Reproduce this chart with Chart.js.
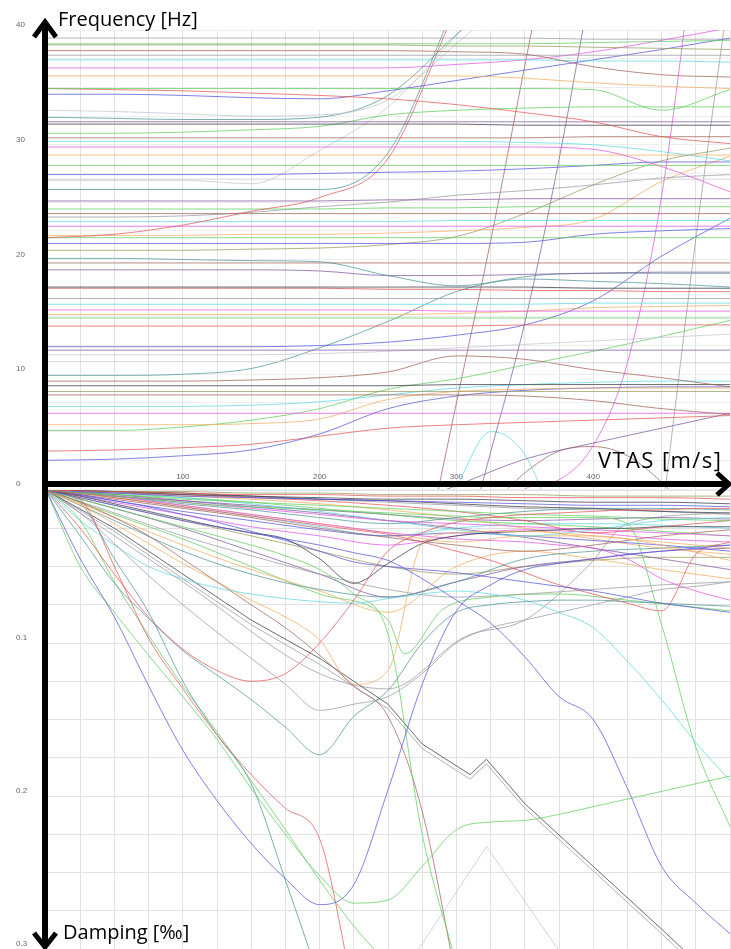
<!DOCTYPE html>
<html>
<head>
<meta charset="utf-8">
<script src="https://cdn.jsdelivr.net/npm/chart.js@4.4.1/dist/chart.umd.min.js"></script>
<style>
html, body { margin: 0; padding: 0; background: #fff; width: 731px; height: 949px; overflow: hidden; position: relative; }
#freqChart { position: absolute; left: 0; top: 0; }
#dampChart { position: absolute; left: 0; top: 484px; }
#axes { position: absolute; left: 0; top: 0; }
.axis-title { position: absolute; font-family: 'Open Sans', sans-serif; font-size: 20px; line-height: 20px; color: #000; white-space: nowrap; }
</style>
</head>
<body>
<canvas id="freqChart" width="731" height="495"></canvas>
<canvas id="dampChart" width="731" height="471"></canvas>
<svg id="axes" width="731" height="949" viewBox="0 0 731 949">
  <g stroke="#000" fill="none">
    <line x1="45" y1="24" x2="45" y2="944" stroke-width="6"/>
    <line x1="45" y1="484" x2="726" y2="484" stroke-width="6"/>
    <polyline points="34,37 45,22 56,37" stroke-width="5"/>
    <polyline points="34,933 45,947 56,933" stroke-width="5"/>
    <polyline points="717,473 729,484 717,495" stroke-width="5"/>
  </g>
</svg>
<div class="axis-title" style="left:58px;top:9px">Frequency [Hz]</div>
<div class="axis-title" style="left:598px;top:448px;font-size:22px;line-height:22px;letter-spacing:1.4px">VTAS [m/s]</div>
<div class="axis-title" style="left:63px;top:922px">Damping [‰]</div>
<script>
// speed grids (m/s)
const speeds = [0, 50, 100, 150, 200, 250, 300, 350, 400, 450, 500];
const speedsFine = [0, 25, 50, 75, 100, 125, 150, 175, 200, 225, 250, 275, 300, 325, 350, 375, 400, 425, 450, 475, 500];

// frequency modes above ~20 Hz (on speeds)
const freqHigh = [
    [39.3, 39.3, 39.3, 39.3, 39.3, 39.3, 39.3, 39.3, 39.2, 39.2, 39.2],
    [38.8, 38.8, 38.8, 38.8, 38.8, 38.8, 38.8, 38.8, 38.9, 39.0, 39.1],
    [38.7, 38.7, 38.7, 38.7, 38.7, 38.7, 38.6, 38.6, 38.5, 38.4, 38.3],
    [38.2, 38.2, 38.2, 38.2, 38.2, 38.2, 38.1, 37.9, 36.8, 36.1, 35.9],
    [37.8, 37.8, 37.8, 37.8, 37.8, 37.8, 37.8, 37.8, 37.8, 37.8, 37.8],
    [37.4, 37.4, 37.4, 37.4, 37.4, 37.4, 37.4, 37.4, 37.3, 37.3, 37.2],
    [36.7, 36.7, 36.7, 36.7, 36.7, 36.7, 37.0, 37.4, 38.1, 39.1, 40.2],
    [36.0, 36.0, 36.0, 36.0, 36.0, 36.0, 36.0, 35.8, 35.4, 35.1, 34.9],
    [34.9, 34.9, 34.9, 34.9, 34.9, 34.9, 34.9, 34.9, 34.8, 33.0, 34.8],
    [34.9, 34.8, 34.7, 34.5, 34.3, 34.0, 33.5, 32.8, 32.0, 30.7, 30.1],
    [34.4, 34.4, 34.3, 34.1, 34.0, 34.7, 35.6, 36.5, 37.4, 38.3, 39.3],
    [33.0, 32.9, 32.7, 32.5, 32.6, 33.9, 38.8, 44.0, null, null, null],
    [32.4, 32.3, 32.2, 32.2, 32.4, 34.3, 39.6, 45.0, null, null, null],
    [32.0, 32.0, 32.0, 32.0, 32.0, 32.0, 32.0, 32.0, 32.0, 32.0, 32.0],
    [31.8, 31.8, 31.8, 31.8, 31.8, 31.8, 31.8, 31.7, 31.7, 31.7, 31.7],
    [31.0, 31.0, 31.1, 31.3, 31.6, 32.6, 33.0, 33.2, 33.3, 33.3, 33.3],
    [30.6, 30.6, 30.6, 30.6, 30.6, 30.6, 30.6, 30.6, 30.7, 30.7, 30.7],
    [30.3, 30.3, 30.3, 30.3, 30.3, 30.3, 30.3, 30.2, 30.0, 29.4, 28.6],
    [29.8, 29.8, 29.8, 29.8, 29.8, 29.8, 29.8, 29.8, 29.6, 28.1, 25.9],
    [29.1, 29.1, 29.1, 29.1, 29.1, 29.1, 29.1, 29.1, 29.1, 29.1, 29.1],
    [28.2, 28.2, 28.2, 28.2, 28.2, 28.2, 28.2, 28.2, 28.2, 28.2, 28.2],
    [27.4, 27.4, 27.4, 27.4, 27.5, 27.6, 27.7, 27.9, 28.2, 28.5, 28.5],
    [27.0, 27.0, 27.0, 27.0, 27.0, 27.0, 27.0, 27.0, 27.0, 27.0, 27.0],
    [26.1, 26.1, 26.1, 26.1, 26.1, 29.3, 42.5, null, null, null, null],
    [26.9, 26.9, 26.9, 26.6, 29.5, 33.3, 39.5, 46.0, null, null, null],
    [25.1, 25.1, 25.1, 25.1, 25.1, 25.2, 25.2, 25.3, 25.3, 25.3, 25.3],
    [21.9, 22.2, 23.0, 24.2, 25.4, 28.8, 42.0, null, null, null, null],
    [24.4, 24.4, 24.4, 24.4, 24.4, 24.5, 24.5, 24.6, 24.6, 24.6, 24.6],
    [24.0, 24.0, 24.0, 24.0, 24.0, 24.0, 24.0, 24.0, 24.0, 24.0, 24.0],
    [23.7, 23.7, 23.8, 24.1, 24.6, 25.0, 25.6, 26.0, 26.5, 27.1, 27.4],
    [23.3, 23.3, 23.3, 23.3, 23.3, 23.3, 23.4, 23.4, 23.4, 23.4, 23.4],
    [22.9, 22.9, 22.9, 22.9, 22.9, 22.9, 22.9, 22.9, 22.9, 22.9, 22.9],
    [22.1, 22.1, 22.1, 22.2, 22.2, 22.3, 22.5, 22.8, 23.5, 26.8, 29.0],
    [21.9, 21.9, 21.9, 21.9, 21.9, 21.9, 21.9, 21.9, 21.9, 21.9, 21.9],
    [21.4, 21.4, 21.4, 21.4, 21.4, 21.4, 21.4, 21.5, 22.2, 22.5, 22.7],
    [20.8, 20.8, 20.8, 20.9, 21.0, 21.3, 22.0, 24.0, 26.5, 28.6, 29.7]
];

// frequency modes below ~20 Hz (on speeds)
const freqLow = [
    [20.1, 20.1, 20.0, 19.9, 19.8, 18.6, 17.7, 18.3, 18.1, 17.9, 17.6],
    [19.7, 19.7, 19.7, 19.7, 19.7, 19.7, 19.7, 19.7, 19.7, 19.7, 19.7],
    [19.1, 19.1, 19.1, 19.1, 19.0, 18.6, 18.6, 18.7, 18.8, 18.9, 18.9],
    [17.6, 17.6, 17.6, 17.6, 17.6, 17.6, 17.6, 17.6, 17.5, 17.5, 17.5],
    [17.5, 17.5, 17.5, 17.5, 17.5, 17.4, 17.4, 17.3, 17.3, 17.2, 17.2],
    [16.6, 16.6, 16.6, 16.6, 16.6, 16.6, 16.6, 16.6, 16.6, 16.6, 16.6],
    [16.1, 16.1, 16.1, 16.1, 16.1, 16.1, 16.1, 16.1, 16.2, 16.2, 16.2],
    [15.6, 15.6, 15.6, 15.6, 15.6, 15.6, 15.5, 15.5, 15.5, 15.5, 15.5],
    [15.2, 15.2, 15.2, 15.2, 15.2, 15.2, 15.3, 15.5, 15.8, 15.9, 16.0],
    [14.9, 14.9, 14.9, 14.9, 14.9, 14.9, 14.9, 14.9, 14.9, 14.9, 14.9],
    [14.2, 14.2, 14.2, 14.2, 14.2, 14.2, 14.2, 14.3, 14.3, 14.3, 14.3],
    [12.4, 12.4, 12.4, 12.4, 12.5, 12.8, 13.4, 14.3, 16.4, 20.3, 23.6],
    [12.1, 12.1, 12.1, 12.1, 12.1, 12.1, 12.1, 12.1, 12.1, 12.1, 12.1],
    [11.7, 11.7, 11.7, 11.7, 11.8, 12.0, 12.3, 12.6, 12.9, 13.2, 13.5],
    [11.1, 11.1, 11.1, 11.1, 11.1, 11.1, 11.0, 11.0, 11.0, 11.0, 11.0],
    [9.9, 9.9, 10.0, 10.5, 12.3, 14.6, 17.2, 18.5, 18.8, 18.8, 18.8],
    [9.4, 9.4, 9.4, 9.5, 9.7, 10.2, 11.6, 11.3, 10.4, 9.7, 8.9],
    [9.0, 9.0, 9.0, 9.0, 9.0, 9.0, 9.1, 9.1, 9.1, 9.1, 9.1],
    [8.5, 8.5, 8.5, 8.5, 8.5, 8.5, 8.5, 8.5, 8.5, 8.5, 8.5],
    [8.2, 8.2, 8.2, 8.2, 8.2, 8.2, 8.2, 8.1, 7.7, 7.0, 6.5],
    [7.2, 7.2, 7.2, 7.3, 7.6, 8.2, 8.8, 9.1, 9.3, 9.4, 9.4],
    [6.6, 6.6, 6.6, 6.6, 6.6, 6.6, 6.6, 6.6, 6.6, 6.6, 6.6],
    [5.6, 5.6, 5.6, 5.7, 6.1, 7.8, 8.5, 8.7, 8.8, 8.8, 8.8],
    [5.1, 5.1, 5.4, 6.0, 7.0, 8.7, 9.6, 10.8, 12.0, 13.3, 14.7],
    [3.3, 3.4, 3.6, 3.9, 4.6, 5.3, 5.6, 5.8, 6.0, 6.2, 6.4],
    [2.5, 2.6, 2.9, 3.4, 4.8, 7.0, 8.1, 8.6, 8.8, 8.9, 8.9],
    [null, null, null, null, null, -2.0, 0.3, 2.6, 4.0, 5.3, 6.6]
];

// steep frequency branches (on speedsFine)
const freqSteep = [
    [null, null, null, null, null, null, null, null, null, null, null, -6.8, 7.5, 21.6, 36.9, 52, null, null, null, null, null],
    [null, null, null, null, null, null, null, null, null, null, null, null, -8, 3.2, 14.5, 28.7, 45, null, null, null, null],
    [null, null, null, null, null, null, null, null, null, null, null, null, null, -3, 0.0, 0.8, 3.8, 11.0, 25.5, 48, null],
    [null, null, null, null, null, null, null, null, null, null, null, null, null, null, null, null, null, -25, -2.5, 21.8, 44],
    [null, null, null, null, null, null, null, null, null, null, null, -4, 0.3, 5.0, 3.0, -4, null, null, null, null, null],
    [null, null, null, null, null, null, null, null, null, null, null, null, null, -1.5, 1.4, 3.3, 3.7, 2.9, 0.6, -2.5, null]
];

// strongly damped modes (on speedsFine)
const dampLarge = [
    [0, 0.045, 0.083, 0.128, 0.170, 0.203, 0.231, 0.254, 0.271, 0.258, 0.196, 0.127, 0.079, 0.062, 0.052, 0.048, 0.045, 0.042, 0.040, 0.038, 0.036],
    [0, 0.05, 0.08, 0.108, 0.135, 0.163, 0.195, 0.225, 0.252, 0.27, 0.268, 0.246, 0.222, 0.217, 0.216, 0.212, 0.207, 0.202, 0.197, 0.192, 0.187],
    [0, 0.006, 0.05, 0.097, 0.13, 0.16, 0.186, 0.208, 0.228, 0.33, null, null, null, null, null, null, null, null, null, null, null],
    [0, 0.025, 0.055, 0.083, 0.104, 0.118, 0.125, 0.12, 0.1, 0.072, 0.04, 0.028, 0.021, 0.018, 0.016, 0.015, 0.014, 0.013, 0.013, 0.012, 0.012],
    [0, 0.03, 0.061, 0.084, 0.105, 0.121, 0.137, 0.155, 0.173, 0.148, 0.131, 0.1, 0.08, 0.075, 0.073, 0.072, 0.072, 0.073, 0.074, 0.075, 0.076],
    [0, 0.015, 0.035, 0.056, 0.075, 0.093, 0.11, 0.127, 0.144, 0.14, 0.135, 0.12, 0.1, 0.09, 0.085, 0.08, 0.075, 0.07, 0.065, 0.063, 0.06],
    [0, 0.005, 0.01, 0.015, 0.02, 0.024, 0.028, 0.032, 0.036, 0.041, 0.046, 0.058, 0.072, 0.087, 0.109, 0.135, 0.15, 0.195, 0.246, 0.27, 0.29],
    [0, 0.02, 0.036, 0.05, 0.058, 0.064, 0.068, 0.071, 0.073, 0.074, 0.071, 0.068, 0.066, 0.068, 0.072, 0.08, 0.09, 0.112, 0.137, 0.165, 0.19],
    [0, 0.002, 0.004, 0.006, 0.008, 0.01, 0.011, 0.012, 0.013, 0.014, 0.015, 0.016, 0.017, 0.018, 0.018, 0.018, 0.018, 0.022, 0.088, 0.168, 0.22],
    [0, 0.006, 0.012, 0.018, 0.024, 0.03, 0.036, 0.043, 0.052, 0.068, 0.094, 0.225, 0.31, null, null, null, null, null, null, null, null],
    [0, 0.008, 0.018, 0.03, 0.045, 0.06, 0.075, 0.09, 0.108, 0.128, 0.148, 0.21, 0.32, null, null, null, null, null, null, null, null],
    [0, 0.01, 0.022, 0.035, 0.048, 0.06, 0.072, 0.083, 0.098, 0.127, 0.118, 0.035, 0.028, 0.027, 0.027, 0.028, 0.03, 0.032, 0.034, 0.036, 0.038],
    [0, 0.004, 0.009, 0.014, 0.019, 0.024, 0.028, 0.032, 0.045, 0.061, 0.048, 0.035, 0.03, 0.028, 0.027, 0.026, 0.025, 0.025, 0.024, 0.024, 0.024],
    [0, 0.003, 0.007, 0.011, 0.016, 0.021, 0.027, 0.033, 0.04, 0.047, 0.05, 0.052, 0.054, 0.057, 0.06, 0.063, 0.066, 0.07, 0.074, 0.077, 0.08],
    [0, 0.002, 0.005, 0.008, 0.011, 0.014, 0.017, 0.02, 0.023, 0.026, 0.029, 0.034, 0.04, 0.046, 0.054, 0.062, 0.068, 0.074, 0.079, 0.042, 0.034],
    [0, 0.002, 0.004, 0.007, 0.01, 0.013, 0.016, 0.019, 0.022, 0.025, 0.028, 0.03, 0.032, 0.033, 0.034, 0.036, 0.038, 0.045, 0.058, 0.066, 0.072],
    [0, 0.008, 0.045, 0.08, 0.125, 0.16, 0.192, 0.255, 0.32, null, null, null, null, null, null, null, null, null, null, null, null],
    [0, 0.02, 0.06, 0.095, 0.128, 0.158, 0.19, 0.222, 0.255, 0.285, 0.31, null, null, null, null, null, null, null, null, null, null]
];

// lightly damped modes (on speeds)
const dampSmall = [
    [0, 0.001, 0.002, 0.003, 0.003, 0.004, 0.004, 0.005, 0.005, 0.005, 0.006],
    [0, 0.002, 0.004, 0.005, 0.006, 0.007, 0.008, 0.009, 0.01, 0.01, 0.011],
    [0, 0.003, 0.006, 0.008, 0.01, 0.012, 0.014, 0.016, 0.017, 0.019, 0.02],
    [0, 0.004, 0.008, 0.012, 0.016, 0.02, 0.022, 0.024, 0.026, 0.028, 0.03],
    [0, 0.002, 0.005, 0.009, 0.014, 0.02, 0.026, 0.03, 0.026, 0.02, 0.018],
    [0, 0.005, 0.01, 0.016, 0.022, 0.028, 0.034, 0.03, 0.03, 0.036, 0.046],
    [0, 0.001, 0.003, 0.004, 0.006, 0.007, 0.009, 0.011, 0.012, 0.014, 0.015],
    [0, 0.006, 0.012, 0.018, 0.025, 0.031, 0.036, 0.04, 0.036, 0.03, 0.026],
    [0, 0.003, 0.007, 0.011, 0.015, 0.02, 0.025, 0.031, 0.038, 0.045, 0.052],
    [0, 0.001, 0.001, 0.002, 0.002, 0.003, 0.003, 0.003, 0.004, 0.004, 0.004],
    [0, 0.004, 0.009, 0.013, 0.018, 0.022, 0.018, 0.014, 0.012, 0.012, 0.013],
    [0, 0.002, 0.003, 0.005, 0.007, 0.01, 0.014, 0.02, 0.028, 0.024, 0.02],
    [0, 0.007, 0.014, 0.02, 0.026, 0.03, 0.028, 0.03, 0.033, 0.036, 0.04],
    [0, 0.003, 0.005, 0.008, 0.012, 0.016, 0.02, 0.022, 0.024, 0.027, 0.03],
    [0, 0.008, 0.016, 0.024, 0.03, 0.036, 0.03, 0.026, 0.028, 0.032, 0.034],
    [0, 0.0015, 0.003, 0.0045, 0.006, 0.008, 0.01, 0.012, 0.013, 0.014, 0.016],
    [0, 0.002, 0.004, 0.006, 0.009, 0.013, 0.018, 0.025, 0.032, 0.038, 0.042],
    [0, 0.005, 0.011, 0.017, 0.024, 0.03, 0.025, 0.022, 0.022, 0.023, 0.025],
    [0, 0.001, 0.002, 0.004, 0.005, 0.006, 0.006, 0.007, 0.008, 0.008, 0.009],
    [0, 0.004, 0.007, 0.01, 0.013, 0.016, 0.019, 0.02, 0.019, 0.018, 0.019],
    [0, 0.015, 0.03, 0.043, 0.055, 0.065, 0.07, 0.068, 0.065, 0.062, 0.06],
    [0, 0.02, 0.04, 0.055, 0.065, 0.07, 0.06, 0.045, 0.04, 0.038, 0.036],
    [0, 0.012, 0.025, 0.04, 0.055, 0.07, 0.06, 0.05, 0.045, 0.04, 0.038],
    [0, 0.01, 0.02, 0.03, 0.04, 0.05, 0.055, 0.05, 0.046, 0.044, 0.044],
    [0, 0.018, 0.036, 0.052, 0.066, 0.08, 0.05, 0.04, 0.045, 0.052, 0.058]
];

// modes with sharp corners, each on its own speeds
const kinkSpeeds = [0, 50, 100, 150, 200, 250, 275, 310, 322, 350, 400, 450, 475];
const kinkA = [0, 0.025, 0.055, 0.085, 0.11, 0.14, 0.166, 0.186, 0.176, 0.205, 0.246, 0.287, 0.308];
const kinkB = [0, 0.027, 0.058, 0.088, 0.114, 0.143, 0.169, 0.189, 0.179, 0.208, 0.249, 0.29, 0.311];
const vSpeeds = [0, 50, 100, 150, 200, 250, 262, 290, 325, 375, 425, 500];
const vMode = [0, 0.016, 0.032, 0.05, 0.068, 0.085, 0.107, 0.078, 0.07, 0.068, 0.072, 0.079];
const peakSpeeds = [265, 322, 382];
const peakMode = [0.31, 0.233, 0.31];
const riseSpeeds = [0, 100, 200, 250, 306, 350, 396, 425, 500];
const riseMode = [0, 0.06, 0.12, 0.13, 0.096, 0.085, 0.05, 0.022, 0.015];

// line colours
const palette = {
    red: 'rgba(228,80,80,0.72)', blue: 'rgba(80,80,220,0.72)', green: 'rgba(90,205,90,0.72)',
    magenta: 'rgba(225,80,225,0.72)', cyan: 'rgba(90,215,225,0.72)', orange: 'rgba(240,170,90,0.72)',
    gray: 'rgba(150,150,160,0.72)', dark: 'rgba(70,70,80,0.8)', brown: 'rgba(160,100,90,0.75)',
    olive: 'rgba(150,150,90,0.72)', teal: 'rgba(80,150,150,0.75)', purple: 'rgba(130,90,160,0.75)',
    light: 'rgba(195,195,205,0.72)'
};
const freqHighColors = ['gray', 'green', 'olive', 'brown', 'gray', 'cyan', 'magenta', 'orange', 'green', 'red', 'blue', 'light', 'teal', 'purple', 'dark', 'green', 'brown', 'cyan', 'magenta', 'orange', 'green', 'blue', 'light', 'teal', 'light', 'purple', 'red', 'green', 'brown', 'gray', 'cyan', 'magenta', 'orange', 'green', 'blue', 'olive'];
const freqLowColors = ['teal', 'brown', 'purple', 'dark', 'red', 'gray', 'cyan', 'magenta', 'orange', 'green', 'red', 'blue', 'purple', 'light', 'light', 'teal', 'brown', 'dark', 'olive', 'brown', 'cyan', 'magenta', 'orange', 'green', 'red', 'blue', 'purple'];
const freqSteepColors = ['brown', 'purple', 'magenta', 'gray', 'cyan', 'brown'];
const dampLargeColors = ['blue', 'green', 'red', 'red', 'teal', 'gray', 'blue', 'cyan', 'green', 'green', 'brown', 'orange', 'dark', 'blue', 'red', 'magenta', 'teal', 'green'];
const dampSmallColors = ['red', 'blue', 'green', 'magenta', 'cyan', 'orange', 'dark', 'brown', 'purple', 'olive', 'teal', 'red', 'blue', 'green', 'magenta', 'gray', 'orange', 'cyan', 'dark', 'purple', 'gray', 'teal', 'purple', 'olive', 'orange'];

function makeLine(xs, ys, color, smooth) {
    return {
        data: xs.map((x, j) => ({ x: x, y: ys[j] })),
        borderColor: palette[color],
        borderWidth: 1,
        pointRadius: 0,
        fill: false,
        tension: 0,
        cubicInterpolationMode: smooth ? 'monotone' : 'default'
    };
}

function makeGroup(xs, group, colors) {
    return group.map((ys, i) => makeLine(xs, ys, colors[i], true));
}

const tickFont = { family: 'Liberation Sans', size: 8 };
const gridColor = '#e2e2e2';

// shared speed axis; labels mirrored so they sit just above the axis line
function xScale(showLabels) {
    return {
        type: 'linear', min: 0, max: 500,
        afterFit: s => { s.height = 0; s.paddingLeft = 0; s.paddingRight = 0; },
        border: { display: false },
        grid: { color: gridColor, drawTicks: false },
        ticks: {
            display: showLabels, mirror: true, stepSize: 25, autoSkip: false, maxRotation: 0,
            padding: 7, color: '#666', font: tickFont,
            callback: v => (v % 100 === 0 && v > 0 && v < 500) ? String(v) : ''
        }
    };
}

function yTicks(callback) {
    return {
        autoSkip: false, padding: 0, crossAlign: 'far', labelOffset: -5,
        color: '#666', font: tickFont, callback: callback
    };
}

new Chart(document.getElementById('freqChart').getContext('2d'), {
    type: 'line',
    data: {
        datasets: [].concat(
            makeGroup(speeds, freqHigh, freqHighColors),
            makeGroup(speeds, freqLow, freqLowColors),
            makeGroup(speedsFine, freqSteep, freqSteepColors)
        )
    },
    options: {
        responsive: false, animation: false, events: [],
        layout: { padding: { top: 30, right: 1, bottom: 6, left: 16 } },
        plugins: { legend: { display: false }, tooltip: { enabled: false } },
        scales: {
            x: xScale(true),
            y: {
                min: 0, max: 40,
                afterFit: s => { s.width = 30; },
                border: { display: false },
                grid: { color: '#eeeeee', drawTicks: false },
                ticks: Object.assign({ stepSize: 2.5 }, yTicks(v => (v % 10 === 0 ? String(v) : '')))
            }
        }
    }
});

const dampSets = [].concat(
    makeGroup(speedsFine, dampLarge, dampLargeColors),
    makeGroup(speeds, dampSmall, dampSmallColors),
    [
        makeLine(kinkSpeeds, kinkA, 'dark', false),
        makeLine(kinkSpeeds, kinkB, 'gray', false),
        makeLine(vSpeeds, vMode, 'green', true),
        makeLine(peakSpeeds, peakMode, 'light', false),
        makeLine(riseSpeeds, riseMode, 'gray', true)
    ]
);

new Chart(document.getElementById('dampChart').getContext('2d'), {
    type: 'line',
    data: { datasets: dampSets },
    options: {
        responsive: false, animation: false, events: [],
        layout: { padding: { top: 6, right: 1, bottom: 6, left: 16 } },
        plugins: { legend: { display: false }, tooltip: { enabled: false } },
        scales: {
            x: xScale(false),
            y: {
                min: 0, max: 0.3, reverse: true,
                afterFit: s => { s.width = 30; },
                border: { display: false },
                grid: { color: gridColor, drawTicks: false },
                ticks: Object.assign({ stepSize: 0.025 }, yTicks(v => {
                    const t = Math.round(v * 1000);
                    return (t > 0 && t % 100 === 0) ? (t / 1000).toFixed(1) : '';
                }))
            }
        }
    }
});
</script>
</body>
</html>
